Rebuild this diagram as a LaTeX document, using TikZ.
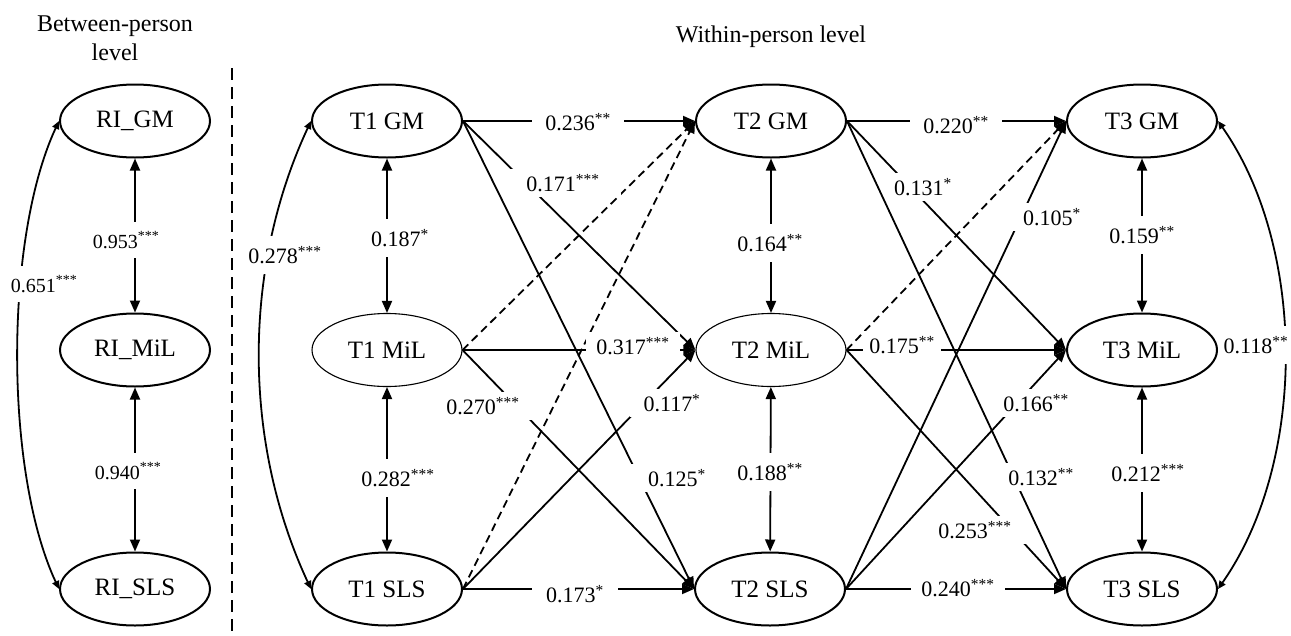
\documentclass[tikz,border=0pt]{standalone}
\usepackage{fontspec}
\setmainfont{Liberation Serif}
\usetikzlibrary{arrows.meta,shapes.geometric}
\begin{document}
\begin{tikzpicture}[x=1pt,y=-1pt,
  var/.style={draw, ellipse, line width=2pt, minimum width=150pt, minimum height=73pt, inner sep=0pt, font=\fontsize{25}{29}\selectfont},
  thinvar/.style={var, line width=1.1pt},
  lab/.style={fill=white, inner xsep=8pt, inner ysep=5pt, font=\fontsize{22}{25}\selectfont},
  vlab/.style={lab, inner ysep=10pt},
  blab/.style={vlab, font=\fontsize{20}{23}\selectfont},
  arr/.style={line width=1.8pt, -{Triangle[length=12pt,width=10pt]}},
  ns/.style={arr, dash pattern=on 8pt off 5pt},
  cov/.style={line width=1.8pt, {Triangle[length=12pt,width=10pt]}-{Triangle[length=12pt,width=10pt]}},
  ccov/.style={line width=1.8pt, {Triangle[length=8pt,width=7pt]}-{Triangle[length=8pt,width=7pt]}},
  head/.style={font=\fontsize{24}{29}\selectfont, align=center}
]
\useasboundingbox (0,0) rectangle (1291,635);

% headers
\node[head] (hb) at (115,38) {Between-person\\level};
\node[head] (hw) at (771,37) {Within-person level};
\coordinate (d1) at (232,68);
\coordinate (d2) at (232,635);
\draw[line width=2.5pt, dash pattern=on 12pt off 7pt] (d1) -- (d2);

% variables
\node[var] (rigm) at (135,121) {RI\_GM};
\node[var] (rimil) at (135,350) {RI\_MiL};
\node[var] (risls) at (135,589) {RI\_SLS};
\node[var] (t1gm) at (387,121) {T1 GM};
\node[thinvar] (t1mil) at (387,350) {T1 MiL};
\node[var] (t1sls) at (387,589) {T1 SLS};
\node[var] (t2gm) at (771,121) {T2 GM};
\node[thinvar] (t2mil) at (771,350) {T2 MiL};
\node[var] (t2sls) at (770,589) {T2 SLS};
\node[var] (t3gm) at (1142,121) {T3 GM};
\node[var] (t3mil) at (1142,350) {T3 MiL};
\node[var] (t3sls) at (1142,589) {T3 SLS};

% between-person covariances
\draw[cov] (rigm) -- (rimil);
\draw[cov] (rimil) -- (risls);
\draw[ccov] (rigm.west) to[out=245,in=115,looseness=0.71] (risls.west);

% within-person covariances
\draw[cov] (t1gm) -- (t1mil);
\draw[cov] (t1mil) -- (t1sls);
\draw[ccov] (t1gm.west) to[out=245,in=115,looseness=0.89] (t1sls.west);
\draw[cov] (t2gm) -- (t2mil);
\draw[cov] (t2mil) -- (t2sls);
\draw[cov] (t3gm) -- (t3mil);
\draw[cov] (t3mil) -- (t3sls);
\draw[ccov] (t3gm.east) to[out=-55,in=55,looseness=0.85] (t3sls.east);

% T1 -> T2
\draw[arr] (t1gm.east) -- (t2gm.west);
\draw[arr] (t1gm.east) -- (t2mil.west);
\draw[arr] (t1gm.east) -- (t2sls.west);
\draw[ns] (t1mil.east) -- (t2gm.west);
\draw[arr] (t1mil.east) -- (t2mil.west);
\draw[arr] (t1mil.east) -- (t2sls.west);
\draw[ns] (t1sls.east) -- (t2gm.west);
\draw[arr] (t1sls.east) -- (t2mil.west);
\draw[arr] (t1sls.east) -- (t2sls.west);

% T2 -> T3
\draw[arr] (t2gm.east) -- (t3gm.west);
\draw[arr] (t2gm.east) -- (t3mil.west);
\draw[arr] (t2gm.east) -- (t3sls.west);
\draw[ns] (t2mil.east) -- (t3gm.west);
\draw[arr] (t2mil.east) -- (t3mil.west);
\draw[arr] (t2mil.east) -- (t3sls.west);
\draw[arr] (t2sls.east) -- (t3gm.west);
\draw[arr] (t2sls.east) -- (t3mil.west);
\draw[arr] (t2sls.east) -- (t3sls.west);

% labels: between
\node[blab] (l953) at (126,240) {0.953\textsuperscript{***}};
\node[blab] (l940) at (128,471) {0.940\textsuperscript{***}};
\node[blab, inner xsep=3pt] (l651) at (44,284) {0.651\textsuperscript{***}};

% labels: within, T1 -> T2
\node[lab, inner xsep=13pt] (l236) at (578,122) {0.236\textsuperscript{**}};
\node[lab, inner xsep=21pt] (l171) at (563,183) {0.171\textsuperscript{***}};
\node[lab, inner xsep=23pt] (l125) at (677,478) {0.125\textsuperscript{*}};
\node[lab, inner xsep=10pt] (l317) at (633,346) {0.317\textsuperscript{***}};
\node[lab, inner xsep=15pt] (l270) at (483,406) {0.270\textsuperscript{***}};
\node[lab, inner xsep=14pt] (l117) at (672,403) {0.117\textsuperscript{*}};
\node[lab, inner xsep=14pt] (l173) at (575,594) {0.173\textsuperscript{*}};
\node[vlab] (l187) at (400,238) {0.187\textsuperscript{*}};
\node[vlab] (l282) at (398,478) {0.282\textsuperscript{***}};
\node[vlab, inner xsep=3pt] (l278) at (285,255) {0.278\textsuperscript{***}};

% labels: within, T2 -> T3
\node[lab, inner xsep=13pt] (l220) at (956,125) {0.220\textsuperscript{**}};
\node[lab] (l131) at (923,187) {0.131\textsuperscript{*}};
\node[lab, inner xsep=11pt] (l132) at (1041,477) {0.132\textsuperscript{**}};
\node[lab, inner xsep=13pt] (l105) at (1052,217) {0.105\textsuperscript{*}};
\node[lab, inner xsep=6pt] (l175) at (902,345) {0.175\textsuperscript{**}};
\node[lab, inner xsep=18pt] (l253) at (975,530) {0.253\textsuperscript{***}};
\node[lab, inner xsep=9pt] (l166) at (1036,403) {0.166\textsuperscript{**}};
\node[lab, inner xsep=10pt] (l240) at (958,588) {0.240\textsuperscript{***}};
\node[vlab] (l164) at (770,243) {0.164\textsuperscript{**}};
\node[vlab] (l188) at (770,472) {0.188\textsuperscript{**}};
\node[vlab] (l159) at (1142,235) {0.159\textsuperscript{**}};
\node[vlab] (l212) at (1148,473) {0.212\textsuperscript{***}};
\node[vlab, inner xsep=2pt] (l118) at (1256,345) {0.118\textsuperscript{**}};
\end{tikzpicture}
\end{document}
